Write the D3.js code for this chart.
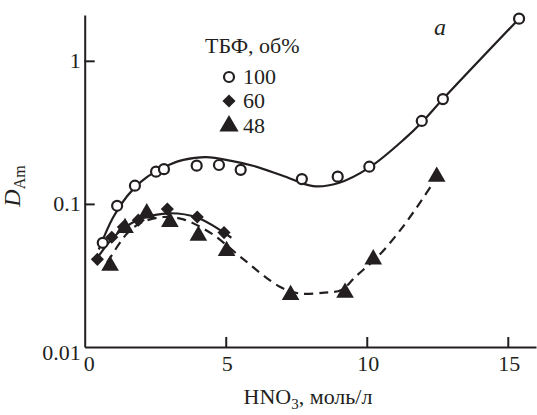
<!DOCTYPE html>
<html>
<head>
<meta charset="utf-8">
<script src="https://cdn.jsdelivr.net/npm/d3@7"></script>
<style>
  body { margin: 0; background: #fff; }
  svg text { font-family: "Liberation Serif", "Times New Roman", serif; fill: #231f20; }
</style>
</head>
<body>
<div id="chart"></div>
<script>
// measured points, HNO3 (mol/l) vs D_Am
const tbf100X = [0.64, 1.15, 1.78, 2.53, 2.81, 3.97, 4.76, 5.53, 7.70, 8.97, 10.09, 11.95, 12.70, 15.40]
const tbf100Y = [0.0535, 0.097, 0.134, 0.168, 0.175, 0.185, 0.187, 0.173, 0.149, 0.155, 0.182, 0.38, 0.54, 1.97]
const tbf60X = [0.45, 0.96, 1.37, 1.90, 2.93, 3.99, 4.94]
const tbf60Y = [0.041, 0.0585, 0.069, 0.077, 0.092, 0.081, 0.063]
const tbf48X = [0.90, 1.43, 2.20, 3.02, 4.03, 5.03, 7.30, 9.23, 10.23, 12.48]
const tbf48Y = [0.037, 0.068, 0.086, 0.075, 0.060, 0.047, 0.0231, 0.024, 0.041, 0.155]

// fitted curves
const fit100X = [0.5, 1.0, 1.5, 2.0, 2.5, 3.0, 3.5, 4.3, 5.2, 6.0, 7.0, 8.1, 9.0, 10.1, 11.3, 12.0, 12.7, 15.4]
const fit100Y = [0.048, 0.08, 0.113, 0.143, 0.168, 0.188, 0.203, 0.212, 0.2, 0.184, 0.158, 0.133, 0.14, 0.18, 0.28, 0.38, 0.54, 1.97]
const fit60X = [0.45, 1.0, 1.5, 2.0, 3.0, 4.0, 5.2]
const fit60Y = [0.042, 0.058, 0.07, 0.079, 0.086, 0.08, 0.058]
const fit48X = [0.8, 1.5, 2.0, 2.8, 3.5, 4.5, 5.5, 6.9, 7.6, 8.5, 9.1, 9.6, 10.4, 11.3, 12.3]
const fit48Y = [0.039, 0.062, 0.074, 0.081, 0.078, 0.062, 0.043, 0.0265, 0.0237, 0.024, 0.025, 0.031, 0.043, 0.07, 0.135]

const xTicks = [0, 5, 10, 15]
const yTicks = [0.01, 0.1, 1]
const legendTitle = 'ТБФ, об%'
const legendLabels = ['100', '60', '48']

const W = 537, H = 415
const ink = '#231f20'

const svg = d3.select('#chart').append('svg')
  .attr('width', W)
  .attr('height', H)

const x = d3.scaleLinear().domain([0, 16]).range([84.7, 536])
const y = d3.scaleLog().domain([0.01, 2.09]).range([347, 15])

// AXES
const xAxis = d3.axisBottom(x)
  .tickValues(xTicks)
  .tickSizeInner(-10)
  .tickSizeOuter(0)
  .tickPadding(8)
  .tickFormat(d => d)

const yAxis = d3.axisLeft(y)
  .tickValues(yTicks)
  .tickSizeInner(-10)
  .tickSizeOuter(0)
  .tickPadding(4)
  .tickFormat(d => d === 1 ? '1' : d === 0.1 ? '0.1' : '0.01')

const gx = svg.append('g')
  .attr('transform', `translate(0,${y(0.01)})`)
  .call(xAxis)
  .attr('font-family', null)
gx.select('.domain').attr('stroke', ink).attr('stroke-width', 2)
gx.selectAll('.tick line').attr('stroke', ink).attr('stroke-width', 2)
  .filter(d => d === 0).remove()
gx.selectAll('.tick text')
  .attr('font-size', 22)
  .attr('dx', d => d === 0 ? 4 : 1)
  .attr('fill', ink)

const gy = svg.append('g')
  .attr('transform', `translate(${x(0)},0)`)
  .call(yAxis)
  .attr('font-family', null)
gy.select('.domain').attr('stroke', ink).attr('stroke-width', 2)
gy.selectAll('.tick line').attr('stroke', ink).attr('stroke-width', 2)
  .filter(d => d === 0.01).remove()
gy.selectAll('.tick text')
  .attr('font-size', 22)
  .attr('dy', d => d === 0.01 ? '0.55em' : '0.32em')
  .attr('fill', ink)

// axis titles
const xt = svg.append('text')
  .attr('x', 308)
  .attr('y', 404)
  .attr('text-anchor', 'middle')
  .attr('font-size', 22)
xt.append('tspan').text('HNO')
xt.append('tspan').attr('font-size', 15).attr('dy', 5).text('3')
xt.append('tspan').attr('dy', -5).text(', моль/л')

const yt = svg.append('text')
  .attr('transform', 'translate(20,186) rotate(-90)')
  .attr('text-anchor', 'middle')
  .attr('font-size', 24)
yt.append('tspan').attr('font-style', 'italic').text('D')
yt.append('tspan').attr('font-size', 16).attr('dy', 5).text('Am')

svg.append('text')
  .attr('x', 440)
  .attr('y', 35)
  .attr('text-anchor', 'middle')
  .attr('font-size', 24)
  .attr('font-style', 'italic')
  .text('a')

// CURVES
const line = d3.line()
  .x(d => x(d[0]))
  .y(d => y(d[1]))
  .curve(d3.curveCatmullRom.alpha(0.5))

const fits = [
  { xs: fit100X, ys: fit100Y, dash: null },
  { xs: fit60X, ys: fit60Y, dash: null },
  { xs: fit48X, ys: fit48Y, dash: '9,6' },
]
svg.selectAll('path.fit')
  .data(fits)
  .join('path')
  .attr('class', 'fit')
  .attr('d', d => line(d.xs.map((v, i) => [v, d.ys[i]])))
  .attr('fill', 'none')
  .attr('stroke', ink)
  .attr('stroke-width', 2.2)
  .attr('stroke-dasharray', d => d.dash)

// MARKERS
const diamond = d3.symbol().type(d3.symbolDiamond2).size(110)
const triangle = d3.symbol().type(d3.symbolTriangle).size(135)

const drawCircles = (g, pts) => g.selectAll('circle')
  .data(pts).join('circle')
  .attr('cx', d => x(d[0])).attr('cy', d => y(d[1]))
  .attr('r', 5)
  .attr('fill', '#fff')
  .attr('stroke', ink)
  .attr('stroke-width', 2.2)

const drawSym = (g, pts, sym) => g.selectAll('path')
  .data(pts).join('path')
  .attr('transform', d => `translate(${x(d[0])},${y(d[1])})`)
  .attr('d', sym)
  .attr('fill', ink)

drawSym(svg.append('g'), tbf48X.map((v, i) => [v, tbf48Y[i]]), triangle)
drawSym(svg.append('g'), tbf60X.map((v, i) => [v, tbf60Y[i]]), diamond)
drawCircles(svg.append('g'), tbf100X.map((v, i) => [v, tbf100Y[i]]))

// LEGEND
svg.append('text')
  .attr('x', 205)
  .attr('y', 53)
  .attr('font-size', 22)
  .text(legendTitle)

const leg = svg.append('g').attr('transform', 'translate(229,0)')
const rowsY = [77, 101, 126]
leg.append('circle').attr('cx', 0).attr('cy', rowsY[0]).attr('r', 5)
  .attr('fill', '#fff').attr('stroke', ink).attr('stroke-width', 2.2)
leg.append('path').attr('transform', `translate(0,${rowsY[1]})`).attr('d', diamond).attr('fill', ink)
leg.append('path').attr('transform', `translate(0,${rowsY[2]})`).attr('d', d3.symbol().type(d3.symbolTriangle).size(160)).attr('fill', ink)
leg.selectAll('text.lbl')
  .data(legendLabels)
  .join('text')
  .attr('class', 'lbl')
  .attr('x', 14)
  .attr('y', (d, i) => rowsY[i] + 7)
  .attr('font-size', 22)
  .text(d => d)
</script>
</body>
</html>
